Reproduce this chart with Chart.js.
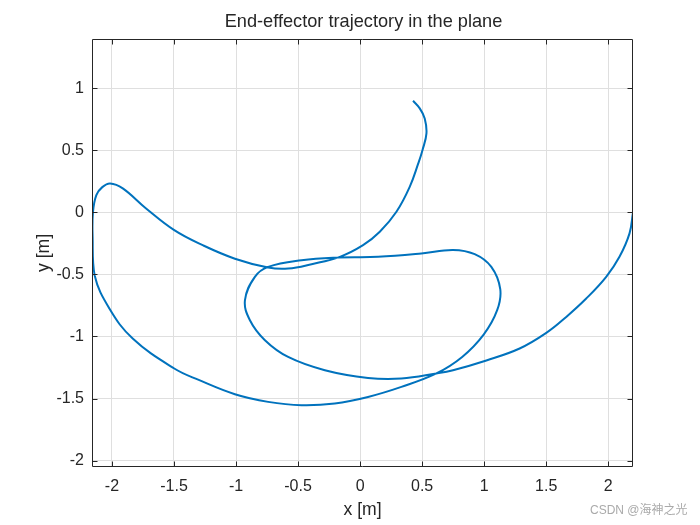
<!DOCTYPE html>
<html>
<head>
<meta charset="utf-8">
<script src="https://cdn.jsdelivr.net/npm/chart.js"></script>
<style>
  html, body { margin: 0; padding: 0; background: #ffffff; }
  #wrap { position: relative; width: 700px; height: 525px; }
  canvas { display: block; }
</style>
</head>
<body>
<div id="wrap"><canvas id="c" width="700" height="525"></canvas></div>
<script>
// ---- data (x [m], y [m]) along the trajectory ----
const trajX = [2.2, 2.172, 2.091, 1.984, 1.823, 1.662, 1.501, 1.286, 1.018, 0.749, 0.615,
  0.333, 0.064, -0.284, -0.580, -0.767, -0.888, -0.928, -0.848, -0.741, -0.472, -0.177,
  0.145, 0.494, 0.749, 0.924, 1.058, 1.130, 1.105, 0.996, 0.823, 0.615, 0.333, 0.064,
  -0.204, -0.472, -0.741, -1.009, -1.296, -1.498, -1.833, -2.021, -2.140, -2.156, -2.153,
  -2.126, -2.078, -2.015, -1.913, -1.725, -1.498, -1.269, -1.009, -0.741, -0.580, -0.391,
  -0.163, 0.024, 0.159, 0.293, 0.400, 0.469, 0.503, 0.535, 0.521, 0.481, 0.427];
const trajY = [0.0, -0.169, -0.358, -0.519, -0.694, -0.842, -0.971, -1.097, -1.193, -1.272, -1.298,
  -1.339, -1.334, -1.272, -1.165, -1.030, -0.869, -0.707, -0.519, -0.439, -0.385, -0.363,
  -0.358, -0.331, -0.302, -0.336, -0.439, -0.619, -0.788, -0.985, -1.165, -1.298, -1.406, -1.487,
  -1.540, -1.554, -1.527, -1.465, -1.352, -1.258, -1.016, -0.774, -0.506, -0.197, 0.005,
  0.140, 0.204, 0.234, 0.194, 0.032, -0.143, -0.264, -0.373, -0.444, -0.452, -0.417,
  -0.358, -0.264, -0.156, 0.005, 0.206, 0.395, 0.502, 0.637, 0.758, 0.839, 0.900];
const xTicks = [-2, -1.5, -1, -0.5, 0, 0.5, 1, 1.5, 2];
const yTicks = [-2, -1.5, -1, -0.5, 0, 0.5, 1];
const xRange = [-2.161, 2.2];
const yRange = [-2.052, 1.398];
const titleText = 'End-effector trajectory in the plane';
const xLabel = 'x [m]';
const yLabel = 'y [m]';
const watermark = 'CSDN @海神之光';

const FONT = '"Liberation Sans", Arial, Helvetica, sans-serif';
const AX = '#262626';

const points = trajX.map((x, i) => ({ x: x, y: trajY[i] }));

const decor = {
  id: 'decor',
  beforeDraw(chart) {
    const ctx = chart.ctx;
    ctx.save();
    ctx.fillStyle = '#ffffff';
    ctx.fillRect(0, 0, chart.width, chart.height);
    ctx.restore();
  },
  afterDraw(chart) {
    const ctx = chart.ctx;
    const a = chart.chartArea;
    const xs = chart.scales.x, ys = chart.scales.y;
    const L = Math.round(a.left) + 0.5, R = Math.round(a.right) - 0.5;
    const T = Math.round(a.top) + 0.5, B = Math.round(a.bottom) - 0.5;
    ctx.save();
    ctx.strokeStyle = AX;
    ctx.lineWidth = 1;
    ctx.beginPath();
    ctx.moveTo(L, T); ctx.lineTo(R, T); ctx.lineTo(R, B); ctx.lineTo(L, B); ctx.closePath();
    const tl = 5;
    xTicks.forEach(v => {
      const p = Math.round(xs.getPixelForValue(v)) + 0.5;
      ctx.moveTo(p, B); ctx.lineTo(p, B - tl);
      ctx.moveTo(p, T); ctx.lineTo(p, T + tl);
    });
    yTicks.forEach(v => {
      const p = Math.round(ys.getPixelForValue(v)) + 0.5;
      ctx.moveTo(L, p); ctx.lineTo(L + tl, p);
      ctx.moveTo(R, p); ctx.lineTo(R - tl, p);
    });
    ctx.stroke();
    // title
    ctx.fillStyle = AX;
    ctx.font = '18.2px ' + FONT;
    ctx.textAlign = 'center';
    ctx.textBaseline = 'middle';
    ctx.fillText(titleText, (a.left + a.right) / 2 + 1, 22);
    // watermark
    ctx.fillStyle = '#aaaaaa';
    ctx.font = '12px ' + FONT + ', "Noto Sans CJK SC"';
    ctx.textAlign = 'left';
    ctx.fillText(watermark, 590, 511);
    ctx.restore();
  }
};

new Chart(document.getElementById('c'), {
  type: 'line',
  data: {
    datasets: [{
      data: points,
      borderColor: '#0072BD',
      backgroundColor: '#0072BD',
      borderWidth: 2,
      pointRadius: 0,
      pointHoverRadius: 0,
      tension: 0.4,
      cubicInterpolationMode: 'default',
      fill: false
    }]
  },
  options: {
    responsive: false,
    animation: false,
    events: [],
    layout: { padding: { top: 39, right: 67, left: 0, bottom: 0 } },
    plugins: { legend: { display: false }, tooltip: { enabled: false }, title: { display: false } },
    scales: {
      x: {
        type: 'linear', position: 'bottom',
        min: xRange[0], max: xRange[1],
        afterBuildTicks: s => { s.ticks = xTicks.map(v => ({ value: v })); },
        afterFit: s => { s.height = 58; },
        grid: { color: '#dfdfdf', lineWidth: 1, drawTicks: false },
        border: { display: false },
        ticks: { color: AX, font: { size: 16, family: FONT }, padding: 10, maxRotation: 0,
                 autoSkip: false, callback: v => String(v) },
        title: { display: true, text: xLabel, color: AX, font: { size: 17.6, family: FONT },
                 padding: 4 }
      },
      y: {
        type: 'linear', position: 'left',
        min: yRange[0], max: yRange[1],
        afterBuildTicks: s => { s.ticks = yTicks.map(v => ({ value: v })); },
        afterFit: s => { s.width = 92; },
        grid: { color: '#dfdfdf', lineWidth: 1, drawTicks: false },
        border: { display: false },
        ticks: { color: AX, font: { size: 16, family: FONT }, padding: 8,
                 autoSkip: false, callback: v => String(v) },
        title: { display: true, text: yLabel, color: AX, font: { size: 17.6, family: FONT },
                 padding: 34 }
      }
    }
  },
  plugins: [decor]
});
</script>
</body>
</html>
